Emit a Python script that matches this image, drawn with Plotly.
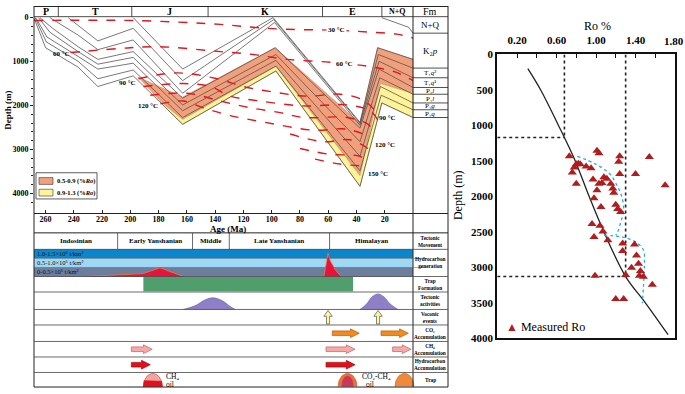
import numpy as np
import plotly.graph_objects as go

W, H = 685, 394
FONT = "Liberation Serif"


def PX(x):
    return x / W


def PY(y):
    return 1 - y / H


# ============================ DATA ============================
# geological periods (Ma)
period_names = ["P", "T", "J", "K", "E", "N+Q"]
period_bounds = [268.2, 251, 199, 145, 64, 22, 0]

# present-day formations (base depth, m)
fm_names = ["N+Q", "K₂<i>p</i>", "T₁<i>q</i>²", "T₁<i>q</i>¹", "P₂<i>l</i>", "P₁<i>l</i>", "P₁<i>g</i>", "P₁<i>q</i>"]
fm_base_depth = [353, 1147, 1367, 1588, 1742, 1940, 2095, 2271]

# burial history lines (age Ma / depth m)
bur_A_age = [198, 163, 99, 37.5, 25, 0]
bur_A_depth = [0, 1169, 0, 2381, 684, 948]
bur_B_age = [244, 223, 198, 163, 98.5, 37.5, 24.5, 0]
bur_B_depth = [0, 529, 243, 1433, 44, 2403, 838, 1147]
bur_C_age = [257, 237, 223, 198, 163, 98, 37.5, 24, 0]
bur_C_depth = [0, 397, 728, 507, 1720, 110, 2448, 992, 1367]
bur_D_age = [264, 255, 237, 223, 198, 163, 97.5, 37.5, 24, 0]
bur_D_depth = [0, 243, 662, 948, 772, 1830, 684, 2514, 1169, 1588]
bur_E_age = [265, 257, 237, 223, 198, 163, 97, 37.5, 23.5, 0]
bur_E_depth = [0, 331, 772, 1058, 904, 1985, 838, 2822, 1367, 1742]
bur_F_age = [267, 259, 237, 223, 198, 163, 97, 37.5, 23, 0]
bur_F_depth = [0, 441, 882, 1169, 1036, 2117, 970, 3153, 1566, 1940]
bur_G_age = [267.5, 259.5, 237, 223, 198, 163, 97, 37.5, 22.5, 0]
bur_G_depth = [0, 551, 992, 1389, 1191, 2271, 1103, 3484, 1764, 2095]
bur_H_age = [268, 260, 237, 223, 198, 163, 97, 37.5, 22, 0]
bur_H_depth = [22, 684, 1125, 1566, 1323, 2426, 1213, 3837, 1940, 2271]
bur_NQ_age = [22, 3, 0]
bur_NQ_depth = [0, 220, 353]

# maturity zones (Ro 0.5, 0.9, 1.3 boundaries)
ro05_age = [195, 163, 97.5, 37.5, 25, 0]
ro05_depth = [1345, 1808, 684, 2403, 684, 948]
ro09_age = [179, 163, 97, 37.5, 23, 0]
ro09_depth = [1900, 2315, 1103, 3594, 1499, 1720]
ro13_age = [175, 163, 97, 37.5, 22, 0]
ro13_depth = [2050, 2426, 1213, 3837, 1940, 2271]

# isotherms
iso30_age = [268, 198, 136.4, 113, 89, 54, 30.4, 11.3, 0]
iso30_depth = [66, 66, 154, 220, 265, 287, 331, 375, 463]
iso60_age = [242.4, 200, 178.8, 136.4, 113, 89, 58.7, 32.5, 12.7, 0]
iso60_depth = [794, 684, 662, 772, 838, 948, 1014, 1103, 1235, 1433]
iso90_age = [194.3, 166.8, 138.5, 120.1, 97.5, 74.9, 51.6, 35.3, 25.4]
iso90_depth = [1389, 1257, 1389, 1566, 1698, 1786, 1742, 1874, 2161]
iso100_age = [190.8, 162.5, 143.5, 129.3, 108.1, 77.7, 46.6, 30.4, 24.7]
iso100_depth = [1566, 1499, 1566, 1786, 1896, 2007, 1985, 2117, 2337]
iso110_age = [185.9, 159.7, 136.4, 115.2, 94, 77.7, 46.6, 31.8, 28.3]
iso110_depth = [1764, 1720, 1896, 2051, 2161, 2271, 2271, 2426, 2602]
iso120_age = [178.8, 162.5, 148.4, 129.3, 104.6, 70.7, 46.6, 30.4]
iso120_depth = [1962, 1896, 2051, 2227, 2381, 2558, 2536, 2712]
iso130_age = [86.9, 63.6, 44.5, 31.8]
iso130_depth = [2646, 2822, 2778, 2977]
iso140_age = [79.9, 58.7, 37.5, 33.2]
iso140_depth = [2977, 3109, 3153, 3263]
iso150_age = [69.3, 51.6, 36]
iso150_depth = [3219, 3330, 3374]

iso_label_text = ["30 °C", "60 °C", "60 °C", "90 °C", "120 °C", "90 °C", "120 °C", "150 °C"]
iso_label_age = [54, 248.8, 48.4, 201.8, 187.3, 17.7, 19.8, 24.7]
iso_label_depth = [287, 816, 1043, 1477, 2007, 2271, 2889, 3550]

# event chart
tecto_names = ["Indosinian", "Early Yanshanian", "Middle", "Late Yanshanian", "Himalayan"]
tecto_bounds = [268.2, 209, 156, 130, 59, 0]
gen_band_labels = ["1.0-1.5×10⁶ t/km²", "0.5-1.0×10⁶ t/km²", "0-0.5×10⁶ t/km²"]
gen_band_levels = [1.5, 1.0, 0.5, 0.0]
gen1_age = [232, 219, 198, 191, 179, 162.5]
gen1_int = [0, 0.05, 0.16, 0.16, 0.48, 0]
gen2_age = [63, 61.5, 60.1, 58.7, 55.1, 51]
gen2_int = [0, 0.8, 1.29, 0.9, 0.38, 0]
trap_form_age = [190.8, 42.4]
tect1_age = [162.5, 154, 147, 141.3, 134.9, 129.3, 125.8]
tect1_int = [0, 0.22, 0.56, 0.67, 0.5, 0.17, 0]
tect2_age = [37.5, 33.2, 29, 24.7, 20.5, 16.3, 10.6]
tect2_int = [0, 0.28, 0.72, 0.89, 0.72, 0.33, 0]
volc_ages = [60.1, 24.7]
co2_arrows = [(57.1, 38.0), (22.6, 3.3)]
ch4_arrows = [(199.3, 184.5), (61.5, 41.0), (14.4, 1.4)]
hc_arrows = [(199.3, 185.9), (61.5, 41.0)]
trap_ages = [(190.8, 177.4), (53.0, 39.6), (12.7, -0.7)]
row_labels = ["Tectonic<br>Movement", "Hydrocarbon<br>generation", "Trap<br>Formation", "Tectonic<br>activities",
              "Voconic<br>events", "CO₂<br>Accumulation", "CH₄<br>Accumulation",
              "Hydrocarbon<br>Accumulation", "Trap"]

# Ro profile
ro_meas = [0.73, 1.01, 1.03, 0.80, 0.82, 0.78, 0.84, 0.76, 0.90, 0.95, 1.24, 1.23, 1.54, 1.40, 1.24,
           0.80, 0.97, 1.08, 1.11, 1.03, 1.06, 1.15, 1.17, 1.18, 1.01, 1.70,
           0.98, 1.05, 1.20, 1.22, 1.25, 0.96, 1.04, 1.07, 0.98, 1.12, 1.27, 1.39, 1.27, 1.41,
           1.36, 1.43, 1.45, 1.44, 1.48, 1.30, 0.99, 1.57, 1.20, 1.28]
depth_meas = [1434, 1357, 1393, 1548, 1539, 1594, 1548, 1662, 1580, 1603, 1434, 1512, 1444, 1685, 1685,
              1821, 1762, 1731, 1753, 1821, 1812, 1821, 1890, 1949, 1913, 1844,
              2026, 2149, 2117, 2177, 2222, 2391, 2413, 2495, 2573, 2618, 2664, 2678, 2769, 2832,
              3005, 2951, 3051, 3119, 3133, 3110, 3119, 3247, 3447, 3447]
ro_trend = [0.31, 0.44, 0.55, 0.62, 0.68, 0.79, 0.93, 1.08, 1.30, 1.50, 1.73]
ro_trend_depth = [200, 500, 800, 1000, 1170, 1500, 2000, 2500, 3130, 3500, 3950]
ro_cut = [0.68, 1.30]
ro_cut_depth = [1170, 3130]
blue1_ro = [0.81, 1.00, 1.14, 1.22, 1.26, 1.28, 1.25, 1.22, 1.20]
blue1_depth = [1435, 1548, 1685, 1867, 2000, 2186, 2368, 2500, 2550]
blue2_ro = [1.08, 1.27, 1.40, 1.48, 1.49, 1.48, 1.47]
blue2_depth = [2550, 2573, 2642, 2755, 2960, 3279, 3506]
ro_label_ticks = [0.2, 0.6, 1.0, 1.4]
ro_last_tick = 1.8

# ============================ FIGURE ============================
fig = go.Figure()
XR = [268.2, -24.8]
RO_DOM = [497.25, 675]
ann = []
shapes = []


def txt(x, y, s, size=8, xref="x", yref="y", bold=True, color="black", **kw):
    d = dict(x=x, y=y, text=s, xref=xref, yref=yref, showarrow=False, xanchor="center", yanchor="middle",
             font=dict(family=FONT, size=size, color=color, weight="bold" if bold else "normal"))
    d.update(kw)
    ann.append(d)


def line(x0, y0, x1, y1, xref="paper", yref="paper", w=1, color="#222"):
    shapes.append(dict(type="line", x0=x0, y0=y0, x1=x1, y1=y1, xref=xref, yref=yref,
                       line=dict(width=w, color=color)))


# ---- maturity zones ----
fig.add_trace(go.Scatter(x=ro05_age + ro09_age[::-1], y=ro05_depth + ro09_depth[::-1], fill="toself",
                         fillcolor="#f2a07c", mode="lines", line=dict(width=0.6, color="#d8805c"),
                         hoverinfo="skip", showlegend=False))
fig.add_trace(go.Scatter(x=ro09_age + ro13_age[::-1], y=ro09_depth + ro13_depth[::-1], fill="toself",
                         fillcolor="#fff39a", mode="lines", line=dict(width=0.6, color="#b8a860"),
                         hoverinfo="skip", showlegend=False))

# ---- burial lines ----
for a, d in [(bur_A_age, bur_A_depth), (bur_B_age, bur_B_depth), (bur_C_age, bur_C_depth),
             (bur_D_age, bur_D_depth), (bur_E_age, bur_E_depth), (bur_F_age, bur_F_depth),
             (bur_G_age, bur_G_depth), (bur_H_age, bur_H_depth), (bur_NQ_age, bur_NQ_depth)]:
    fig.add_trace(go.Scatter(x=a, y=d, mode="lines", line=dict(width=0.8, color="#555555"),
                             hoverinfo="skip", showlegend=False))

# ---- isotherms ----
for a, d in [(iso30_age, iso30_depth), (iso60_age, iso60_depth), (iso90_age, iso90_depth),
             (iso100_age, iso100_depth), (iso110_age, iso110_depth), (iso120_age, iso120_depth),
             (iso130_age, iso130_depth), (iso140_age, iso140_depth), (iso150_age, iso150_depth)]:
    fig.add_trace(go.Scatter(x=a, y=d, mode="lines", line=dict(width=1.4, color="#e3161d", dash="dash"),
                             line_shape="spline", hoverinfo="skip", showlegend=False))

for i, (s, a, d) in enumerate(zip(iso_label_text, iso_label_age, iso_label_depth)):
    if i in (0, 2):
        txt(a, d, s, size=7, bgcolor="white")
    else:
        txt(a, d, s, size=7)

# ---- period header ----
for i, n in enumerate(period_names):
    mid = (period_bounds[i] + period_bounds[i + 1]) / 2
    txt(mid, -143, n, size=10 if n != "N+Q" else 8)
    if i > 0:
        shapes.append(dict(type="line", x0=period_bounds[i], x1=period_bounds[i], y0=-22, y1=-265,
                           xref="x", yref="y", line=dict(width=0.8, color="#222")))
txt(-12.4, -143, "Fm", size=10, bold=False)

# formation column
prev = -22
for n, b in zip(fm_names, fm_base_depth):
    txt(-12.4, (prev + b) / 2, n, size=9 if n in ("N+Q", fm_names[1]) else 7, bold=False)
    shapes.append(dict(type="line", x0=0, x1=-24.8, y0=b, y1=b, xref="x", yref="y",
                       line=dict(width=0.8, color="#222")))
    prev = b

# legend box on burial plot
shapes.append(dict(type="rect", x0=PX(36), x1=PX(97), y0=PY(172), y1=PY(199), xref="paper", yref="paper",
                   line=dict(width=0.8, color="#333"), fillcolor="white"))
shapes.append(dict(type="rect", x0=PX(39), x1=PX(53), y0=PY(177), y1=PY(184), xref="paper", yref="paper",
                   line=dict(width=0.6, color="#333"), fillcolor="#f2a07c"))
shapes.append(dict(type="rect", x0=PX(39), x1=PX(53), y0=PY(189), y1=PY(196), xref="paper", yref="paper",
                   line=dict(width=0.6, color="#333"), fillcolor="#fff39a"))
txt(PX(55), PY(180.5), "0.5-0.9 (%<i>Ro</i>)", size=6.5, xref="paper", yref="paper", xanchor="left")
txt(PX(55), PY(192.5), "0.9-1.3 (%<i>Ro</i>)", size=6.5, xref="paper", yref="paper", xanchor="left")

txt(PX(228), PY(230), "Age (Ma)", size=9, xref="paper", yref="paper")
txt(PX(8), PY(108), "Depth (m)", size=9, xref="paper", yref="paper", textangle=-90)

# ---- frame lines (paper) ----
line(PX(34), PY(0.5), PX(448), PY(0.5))
line(PX(34), PY(11), PX(448), PY(11), w=0.8)
line(PX(34), PY(0), PX(34), PY(393))
line(PX(413), PY(0), PX(413), PY(393))
line(PX(448), PY(0), PX(448), PY(393))
line(PX(34), PY(234), PX(448), PY(234))
line(PX(34), PY(393), PX(448), PY(393))

# ============================ EVENT CHART ============================
row_h = [17, 28, 16, 18, 16, 17, 16, 16, 15]
tops = []
t = 159
for h in row_h:
    tops.append(t)
    t -= h
bots = [tp - h for tp, h in zip(tops, row_h)]

# generation bands
band_cols = ["#0b86cd", "#9fd8f4", "#6d7d9e"]
for i, col in enumerate(band_cols):
    y1 = bots[1] + gen_band_levels[i] / 1.5 * 28
    y0 = bots[1] + gen_band_levels[i + 1] / 1.5 * 28
    shapes.append(dict(type="rect", x0=268.2, x1=0, y0=y0, y1=y1, xref="x2", yref="y2",
                       line=dict(width=0), fillcolor=col, layer="below"))
    txt(267.5, (y0 + y1) / 2, gen_band_labels[i], size=6.5, xref="x2", yref="y2", xanchor="left",
        bold=False, color="#101020")

# row separators
for b in bots[:-1]:
    shapes.append(dict(type="line", x0=0, x1=1, y0=b, y1=b, xref="x2 domain", yref="y2",
                       line=dict(width=0.8, color="#444")))
for lv in gen_band_levels[1:3]:
    yy = bots[1] + lv / 1.5 * 28
    shapes.append(dict(type="line", x0=0, x1=0.948, y0=yy, y1=yy, xref="x2 domain", yref="y2",
                       line=dict(width=0.5, color="#555")))

# tectonic header
for i, n in enumerate(tecto_names):
    mid = (tecto_bounds[i] + tecto_bounds[i + 1]) / 2
    txt(mid, (tops[0] + bots[0]) / 2, n, size=7, xref="x2", yref="y2")
    if i > 0:
        shapes.append(dict(type="line", x0=tecto_bounds[i], x1=tecto_bounds[i], y0=bots[0], y1=tops[0],
                           xref="x2", yref="y2", line=dict(width=0.8, color="#444")))

# right label column
for i, s in enumerate(row_labels):
    txt(-12.4, (tops[i] + bots[i]) / 2, s, size=5.3, xref="x2", yref="y2")


def gen_y(v):
    return [bots[1] + x / 1.5 * 28 for x in v]


for a, v in [(gen1_age, gen1_int), (gen2_age, gen2_int)]:
    fig.add_trace(go.Scatter(x=a, y=gen_y(v), fill="toself", fillcolor="#e8123c", mode="lines",
                             line=dict(width=0.8, color="#f07a3a"), xaxis="x2", yaxis="y2",
                             hoverinfo="skip", showlegend=False))

# trap formation bar
shapes.append(dict(type="rect", x0=trap_form_age[0], x1=trap_form_age[1], y0=bots[2] + 0.5, y1=tops[2] - 0.5,
                   xref="x2", yref="y2", line=dict(width=0), fillcolor="#4f9e6c"))

# tectonic activity bumps
for a, v in [(tect1_age, tect1_int), (tect2_age, tect2_int)]:
    fig.add_trace(go.Scatter(x=a, y=[bots[3] + x * row_h[3] for x in v], fill="toself", fillcolor="#8e80c6",
                             mode="lines", line=dict(width=0.6, color="#6a5aa8", shape="spline"),
                             xaxis="x2", yaxis="y2", hoverinfo="skip", showlegend=False))


def harrow(a0, a1, yc, sh=2.4, hh=4.5, hl=6.2):
    xs = [a0, a1 + hl, a1 + hl, a1, a1 + hl, a1 + hl, a0, a0]
    ys = [yc - sh, yc - sh, yc - hh, yc, yc + hh, yc + sh, yc + sh, yc - sh]
    return xs, ys


def add_poly(xs, ys, fill, lc):
    fig.add_trace(go.Scatter(x=xs, y=ys, fill="toself", fillcolor=fill, mode="lines",
                             line=dict(width=0.7, color=lc), xaxis="x2", yaxis="y2",
                             hoverinfo="skip", showlegend=False))


# volcanic arrows
for a in volc_ages:
    y0, y1 = bots[4] + 1, tops[4] - 1
    sw, hw, hh = 1.1, 3.0, 6
    xs = [a - sw, a - sw, a - hw, a, a + hw, a + sw, a + sw, a - sw]
    ys = [y0, y1 - hh, y1 - hh, y1, y1 - hh, y1 - hh, y0, y0]
    add_poly(xs, ys, "#fff59a", "#555555")

for a0, a1 in co2_arrows:
    add_poly(*harrow(a0, a1, (tops[5] + bots[5]) / 2), "#f28a1c", "#b45a10")
for a0, a1 in ch4_arrows:
    add_poly(*harrow(a0, a1, (tops[6] + bots[6]) / 2), "#f6aaa8", "#c06262")
for a0, a1 in hc_arrows:
    add_poly(*harrow(a0, a1, (tops[7] + bots[7]) / 2), "#e0101c", "#a00810")

# traps (domes)
tt = np.linspace(0, np.pi, 40)
base, dh = bots[8] + 0.5, 13.5
for i, (a0, a1) in enumerate(trap_ages):
    c, r = (a0 + a1) / 2, (a0 - a1) / 2
    xs = list(c + r * np.cos(tt))
    ys = list(base + dh * np.sin(tt))
    if i == 0:
        add_poly(xs, ys, "#f4a3a3", "#c05050")
        t1 = np.arcsin(6 / dh)
        ta = np.linspace(0, t1, 10)
        tb = np.linspace(np.pi - t1, np.pi, 10)
        xl = list(c + r * np.cos(ta)) + list(c + r * np.cos(tb)) + [c + r]
        yl = list(base + dh * np.sin(ta)) + list(base + dh * np.sin(tb)) + [base]
        add_poly(xl, yl, "#e0101c", "#e0101c")
    elif i == 1:
        add_poly(xs, ys, "#e8703a", "#d05a20")
        inner_x = list(c + 0.6 * r * np.cos(tt))
        inner_y = list(base + 0.8 * dh * np.sin(tt))
        add_poly(inner_x, inner_y, "#c8385a", "#c8385a")
    else:
        add_poly(xs, ys, "#ee8a3a", "#c86820")

txt(PX(172), PY(382.5), "CH₄", size=7.5, xref="paper", yref="paper", bold=False)
txt(PX(170), PY(390.5), "oil", size=7.5, xref="paper", yref="paper", bold=False)
txt(PX(376), PY(382), "CO₂-CH₄", size=7.5, xref="paper", yref="paper", bold=False)
txt(PX(370), PY(390.5), "oil", size=7.5, xref="paper", yref="paper", bold=False)

# ============================ Ro PROFILE ============================
fig.add_trace(go.Scatter(x=ro_trend, y=ro_trend_depth, mode="lines", line=dict(color="#222", width=1.3),
                         line_shape="spline", xaxis="x3", yaxis="y3", hoverinfo="skip", showlegend=False))
for r, d in zip(ro_cut, ro_cut_depth):
    fig.add_trace(go.Scatter(x=[r, r], y=[0, d], mode="lines", line=dict(color="#222", width=1.6, dash="dot"),
                             xaxis="x3", yaxis="y3", hoverinfo="skip", showlegend=False))
    fig.add_trace(go.Scatter(x=[0, r], y=[d, d], mode="lines", line=dict(color="#222", width=1.6, dash="dot"),
                             xaxis="x3", yaxis="y3", hoverinfo="skip", showlegend=False))
for rr, dd in [(blue1_ro, blue1_depth), (blue2_ro, blue2_depth)]:
    fig.add_trace(go.Scatter(x=rr, y=dd, mode="lines", line=dict(color="#2aaae2", width=1.3, dash="dot"),
                             line_shape="spline", xaxis="x3", yaxis="y3", hoverinfo="skip", showlegend=False))
fig.add_trace(go.Scatter(x=ro_meas, y=depth_meas, mode="markers", name="Measured Ro",
                         marker=dict(symbol="triangle-up", size=8, color="#b21c1c"),
                         xaxis="x3", yaxis="y3", showlegend=False))

# last tick label of the Ro axis (sits on the frame edge, placed explicitly so it is not dropped)
txt(ro_last_tick, 1, "%.2f" % ro_last_tick, size=11, xref="x3", yref="y3 domain", yanchor="bottom",
    xanchor="center", bold=True, yshift=5, xshift=-1)
txt(PX(504), PY(331), "<span style='color:#b21c1c'>▲</span> Measured Ro", size=12,
    xref="paper", yref="paper", bold=False, xanchor="left")
txt(PX(597), PY(21), "Ro %", size=12, xref="paper", yref="paper", bold=False)
txt(PX(458), PY(195), "Depth (m)", size=12, xref="paper", yref="paper", bold=False, textangle=-90)

fig.update_layout(
    width=W, height=H, margin=dict(l=0, r=0, t=0, b=0),
    paper_bgcolor="white", plot_bgcolor="white",
    font=dict(family=FONT, color="black"),
    showlegend=False,
    xaxis=dict(domain=[PX(34), PX(448)], range=XR, anchor="y", showgrid=False, zeroline=False,
               showline=True, linecolor="#222", linewidth=1, tickvals=list(range(260, 0, -20)),
               ticks="inside", ticklen=3, tickcolor="#222", ticklabelstandoff=-1,
               tickfont=dict(family=FONT, size=8, weight="bold")),
    yaxis=dict(domain=[PY(213), 1], range=[4432, -265], anchor="x", showgrid=False, zeroline=False,
               showline=False, tickvals=[0, 1000, 2000, 3000, 4000], ticks="outside", ticklen=3,
               tickcolor="#222", tickfont=dict(family=FONT, size=8, weight="bold"),
               minor=dict(tickvals=list(range(200, 4400, 200)), ticks="outside", ticklen=2, tickcolor="#222")),
    xaxis2=dict(domain=[PX(34), PX(448)], range=XR, anchor="y2", visible=False),
    yaxis2=dict(domain=[PY(393), PY(234)], range=[0, 159], anchor="x2", visible=False),
    xaxis3=dict(domain=[PX(RO_DOM[0]), PX(RO_DOM[1])], range=[0, 1.8], anchor="y3", side="top",
                showgrid=False, zeroline=False, showline=True, mirror=True, linecolor="#111", linewidth=2,
                tickvals=ro_label_ticks, ticktext=["%.2f" % v for v in ro_label_ticks],
                ticks="inside", ticklen=4, tickcolor="#111", ticklabelstandoff=4,
                minor=dict(dtick=0.2, tick0=0, ticks="inside", ticklen=4, tickcolor="#111"),
                tickfont=dict(family=FONT, size=11, weight="bold")),
    yaxis3=dict(domain=[PY(342.7), PY(50)], range=[4000, 0], anchor="x3", showgrid=False, zeroline=False,
                showline=True, mirror=True, linecolor="#111", linewidth=2, tickvals=list(range(0, 4001, 500)),
                ticks="", tickfont=dict(family=FONT, size=11, weight="bold")),
    annotations=ann, shapes=shapes,
)

fig.write_html("out.html", config={"displayModeBar": False},
               post_script="document.body.style.margin='0';document.body.style.overflow='hidden';")
